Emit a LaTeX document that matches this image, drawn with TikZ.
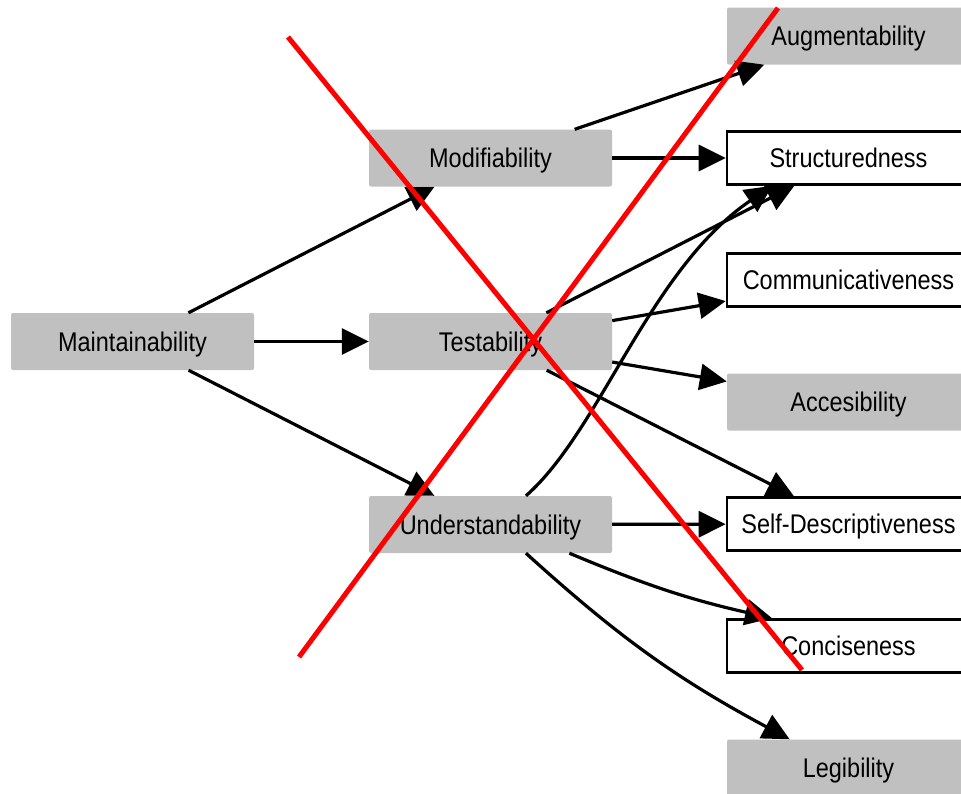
\documentclass[tikz,border=0pt]{standalone}
\usepackage{fontspec}
\setmainfont{Liberation Sans}[FakeStretch=0.87]
\usetikzlibrary{arrows.meta}
\definecolor{boxgray}{RGB}{192,192,192}
\begin{document}
\begin{tikzpicture}[x=1pt, y=1pt,
  every node/.style={font=\fontsize{27}{32}\selectfont, inner sep=0pt, minimum width=243pt,
    text height=22pt, text depth=3pt},
  gbox/.style={fill=boxgray, rounded corners=2pt, minimum height=57pt},
  wbox/.style={draw, fill=white, line width=2.6pt, minimum height=53pt},
  link/.style={line width=3.2pt, -{Triangle[length=27pt, width=26pt]}},
  cross/.style={red, line width=5pt}]
  \useasboundingbox (0,0) rectangle (961,-793);
  \clip (0,0) rectangle (961,-793);
  \node[gbox] (maint) at (132.5,-341.5) {Maintainability};
  \node[gbox] (modif) at (490.5,-158) {Modifiability};
  \node[gbox] (test) at (490.5,-341.5) {Testability};
  \node[gbox] (under) at (490.5,-524.5) {Understandability};
  \node[gbox] (augm) at (848.5,-36) {Augmentability};
  \node[wbox] (struct) at (848.5,-158) {Structuredness};
  \node[wbox] (commun) at (848.5,-280) {Communicativeness};
  \node[gbox] (access) at (848.5,-402) {Accesibility};
  \node[wbox] (selfdesc) at (848.5,-524) {Self-Descriptiveness};
  \node[wbox] (concise) at (848.5,-646) {Conciseness};
  \node[gbox] (legib) at (848.5,-768) {Legibility};
  \foreach \a/\b in {maint/modif,maint/test,maint/under,modif/augm,modif/struct,test/struct,
      test/commun,test/access,test/selfdesc,under/selfdesc}
    \draw[link] (\a) -- (\b);
  \draw[link] (under.-20) to[bend right=5] (concise.160);
  \draw[link] (under.-39) to[bend right=7] (legib.154);
  \draw[link] (under.39) .. controls +(75,66) and +(-123,-84) .. (struct.200);
  % the red cross over the picture
  \coordinate (c1) at (288,-37); \coordinate (c2) at (802,-670);
  \coordinate (c3) at (299,-657); \coordinate (c4) at (778,-8);
  \draw[cross] (c1) -- (c2); \draw[cross] (c3) -- (c4);
\end{tikzpicture}
\end{document}
